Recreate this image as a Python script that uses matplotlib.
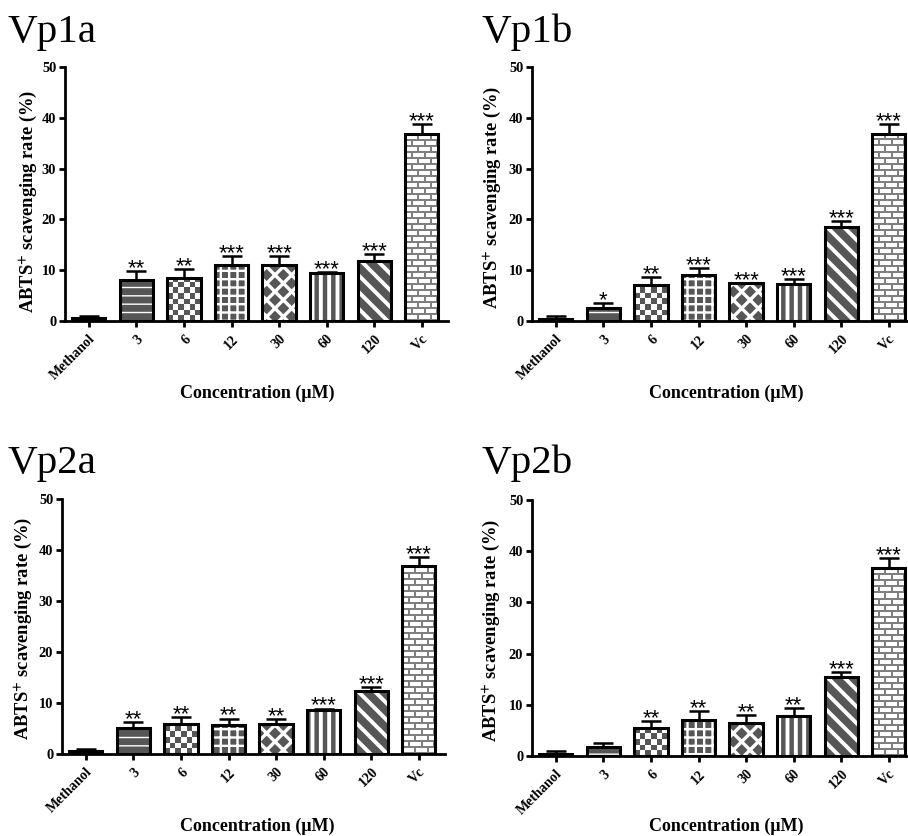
#!/usr/bin/env python3
"""ABTS+ scavenging rate of Vp1a, Vp1b, Vp2a and Vp2b (four bar panels)."""

import numpy as np
import matplotlib
matplotlib.use('Agg')
import matplotlib.pyplot as plt
from matplotlib.colors import ListedColormap

plt.rcParams['font.family'] = 'Liberation Serif'
plt.rcParams['mathtext.fontset'] = 'stix'
plt.rcParams['hatch.linewidth'] = 2.0

# Datos
categorias = ['Methanol', '3', '6', '12', '30', '60', '120', 'Vc']
paneles = ['Vp1a', 'Vp1b', 'Vp2a', 'Vp2b']

vp1a = [0.5, 8.1, 8.4, 11.0, 11.0, 9.5, 11.9, 36.8]
vp1a_err = [0.5, 1.8, 1.8, 1.8, 1.8, 0.1, 1.3, 1.9]
vp1a_sig = ['', '**', '**', '***', '***', '***', '***', '***']

vp1b = [0.4, 2.5, 7.1, 9.0, 7.4, 7.2, 18.5, 36.9]
vp1b_err = [0.6, 1.0, 1.6, 1.4, 0.1, 1.0, 1.2, 1.8]
vp1b_sig = ['', '*', '**', '***', '***', '***', '***', '***']

vp2a = [0.5, 5.1, 5.9, 5.75, 5.9, 8.6, 12.3, 36.8]
vp2a_err = [0.5, 1.2, 1.4, 1.2, 0.9, 0.3, 0.8, 1.8]
vp2a_sig = ['', '**', '**', '**', '**', '***', '***', '***']

vp2b = [0.45, 1.75, 5.5, 7.1, 6.5, 7.8, 15.45, 36.8]
vp2b_err = [0.55, 0.85, 1.3, 1.7, 1.5, 1.6, 0.95, 1.8]
vp2b_sig = ['', '', '**', '**', '**', '**', '***', '***']

valores = [vp1a, vp1b, vp2a, vp2b]
errores = [vp1a_err, vp1b_err, vp2a_err, vp2b_err]
signif = [vp1a_sig, vp1b_sig, vp2a_sig, vp2b_sig]

W, H = 908, 836
DPI = 100
PT = 72 / DPI  # px -> pt

OSCURO = '#565656'
# (trama, relleno, color de la trama, grosor de trama en pt)
tramas = [
    (None, OSCURO, 'white', 1.0),
    ('--', OSCURO, 'white', 1.0),
    ('checker', OSCURO, 'white', 1.0),
    ('++', OSCURO, 'white', 1.7),
    ('xx', OSCURO, 'white', 2.4),
    ('||', OSCURO, 'white', 2.8),
    ('\\\\', OSCURO, 'white', 2.8),
    ('brick', 'white', '#7a7a7a', 1.0),
]

# posiciones en px: (izq. del eje, y de 50, y de 0, título x, título base,
#                    xlabel x, xlabel base, ylabel x, ylabel y)
disposicion = [
    (65, 67, 321, 8, 42, 257, 398, 28, 201),
    (532, 67, 321, 482, 42, 726, 398, 492, 197),
    (62, 499, 754, 8, 473, 257, 831, 23, 628),
    (532, 500, 756, 482, 473, 726, 831, 491, 630),
]
ANCHO_EJE = 383
XLIM = (-0.5, 7.55)


def tamano_px(ax, b):
    x0, w, alto = b.get_x(), b.get_width(), b.get_height()
    (p0x, p0y), (p1x, p1y) = ax.transData.transform([(x0, 0), (x0 + w, alto)])
    return x0, w, alto, p1x - p0x, p1y - p0y


def tablero(ax, b):
    x0, w, alto, wpx, hpx = tamano_px(ax, b)
    nx = max(1, int(round(wpx / 5.5)))
    celda_y = (wpx / nx) / (hpx / alto)
    ny = int(np.ceil(alto / celda_y))
    arr = np.indices((ny, nx)).sum(axis=0) % 2
    im = ax.imshow(arr, cmap=ListedColormap([OSCURO, 'white']),
                   extent=(x0, x0 + w, 0, ny * celda_y), aspect='auto',
                   interpolation='nearest', origin='lower', zorder=2.5)
    im.set_clip_path(b)


def ladrillos(ax, b):
    # patrón de ladrillo a resolución de píxel
    x0, w, alto, wpx, hpx = tamano_px(ax, b)
    nx, ny = int(round(wpx)), int(np.ceil(hpx))
    alto_f, largo = 6, 12
    yy, xx = np.indices((ny, nx))
    f = yy // alto_f
    junta_h = (yy % alto_f) < 1.5
    desplaz = (f % 2) * (largo // 2)
    junta_v = ((xx + desplaz) % largo) < 1.5
    arr = (junta_h | junta_v).astype(int)
    im = ax.imshow(arr, cmap=ListedColormap(['white', '#7f7f7f']),
                   extent=(x0, x0 + w, 0, ny * alto / hpx), aspect='auto',
                   interpolation='nearest', origin='lower', zorder=2.5)
    im.set_clip_path(b)


def panel(fig, k):
    izq, ytop, ybot, tx, ty, lx, ly, yx, yy = disposicion[k]
    ax = fig.add_axes([izq / W, 1 - ybot / H, ANCHO_EJE / W, (ybot - ytop) / H])
    ax.set_xlim(*XLIM)
    ax.set_ylim(0, 50)

    x = np.arange(len(categorias))
    vals = valores[k]
    errs = errores[k]

    for i, (trama, fc, hc, hlw) in enumerate(tramas):
        h = trama if trama not in (None, 'checker', 'brick') else None
        b = ax.bar(x[i], vals[i], width=0.7, color=fc, edgecolor=hc,
                   linewidth=0, hatch=h, zorder=2)[0]
        if h and hasattr(b, 'set_hatch_linewidth'):
            b.set_hatch_linewidth(hlw)
        if trama == 'checker':
            tablero(ax, b)
        elif trama == 'brick':
            ladrillos(ax, b)
        ax.bar(x[i], vals[i], width=0.7, fill=False, edgecolor='black',
               linewidth=2.2, zorder=3)

    ax.errorbar(x, vals, yerr=[np.zeros(len(errs)), errs], fmt='none',
                ecolor='black', elinewidth=1.8, capsize=10 * PT, capthick=1.8,
                zorder=4)

    for xi, v, e, s in zip(x, vals, errs, signif[k]):
        if s:
            ax.annotate(s, (xi, v + e), xytext=(0, -2.2), textcoords='offset points',
                        ha='center', va='baseline', fontsize=22 * PT,
                        family='Liberation Sans', zorder=5)

    ax.set_xlim(*XLIM)
    ax.set_ylim(0, 50)
    ax.set_xticks(x)
    ax.set_xticklabels(categorias, rotation=45, ha='right', rotation_mode='anchor',
                       fontsize=14 * PT, fontweight='bold')
    ax.set_yticks([0, 10, 20, 30, 40, 50])
    ax.set_yticklabels(['0', '10', '20', '30', '40', '50'], fontsize=14.5 * PT,
                       fontweight='bold')
    ax.tick_params(axis='both', direction='out', length=6 * PT, width=2.0, pad=2)
    ax.tick_params(axis='x', pad=4)
    for lado in ('top', 'right'):
        ax.spines[lado].set_visible(False)
    for lado in ('left', 'bottom'):
        ax.spines[lado].set_linewidth(2.0)
    ax.set_facecolor('none')

    fig.text(tx / W, 1 - ty / H, paneles[k], fontsize=41 * PT, ha='left', va='baseline')
    fig.text(lx / W, 1 - ly / H, 'Concentration (\u03bcM)', fontsize=18 * PT,
             fontweight='bold', ha='center', va='baseline')
    fig.text(yx / W, 1 - yy / H, r'ABTS$^{\mathbf{+}}$ scavenging rate (%)',
             fontsize=18.5 * PT, fontweight='bold', rotation=90, ha='center', va='center')


def main():
    fig = plt.figure(figsize=(W / DPI, H / DPI), dpi=DPI)
    for k in range(4):
        panel(fig, k)
    fig.savefig('out.png', dpi=DPI)
    plt.close(fig)


if __name__ == '__main__':
    main()
